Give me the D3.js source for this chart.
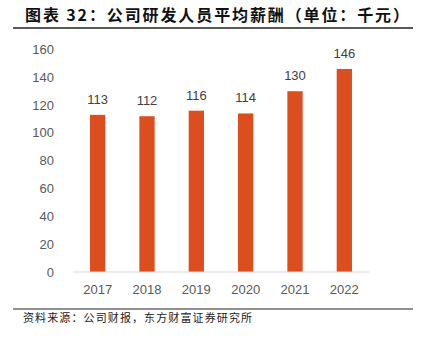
<!DOCTYPE html>
<html><head><meta charset="utf-8">
<script src="https://cdn.jsdelivr.net/npm/d3@7"></script>
<style>body{margin:0;background:#fff}svg{display:block}</style>
</head><body>
<svg id="c" width="422" height="338"></svg>
<script>
const categories = ["2017","2018","2019","2020","2021","2022"];
const values = [113,112,116,114,130,146];
const yTicks = [0,20,40,60,80,100,120,140,160];
const titleText = "图表 32：公司研发人员平均薪酬（单位：千元）";
const sourceText = "资料来源：公司财报，东方财富证券研究所";

const svg = d3.select("#c");
const font = "'Noto Sans CJK SC','Noto Sans',sans-serif";

svg.append("text").attr("x",25).attr("y",21).attr("font-family",font)
  .attr("font-size",16).attr("font-weight","bold").attr("fill","#111")
  .attr("textLength",384).attr("lengthAdjust","spacing").text(titleText);
svg.append("line").attr("x1",13).attr("x2",413).attr("y1",28).attr("y2",28)
  .attr("stroke","#222").attr("stroke-width",1.3);

const x = d3.scaleBand().domain(categories).range([73,369]).paddingInner(0.69).paddingOuter(0.345);
const y = d3.scaleLinear().domain([0,160]).range([272,49.5]);

const numFont = "'Liberation Sans',Arial,sans-serif";
svg.append("g").selectAll("text").data(yTicks).join("text")
  .attr("x",54).attr("y",d=>y(d)).attr("dy","0.35em").attr("text-anchor","end")
  .attr("font-family",numFont).attr("font-size",13).attr("fill","#595959").text(d=>d);

svg.append("g").selectAll("rect").data(values).join("rect")
  .attr("x",(d,i)=>x(categories[i])).attr("width",x.bandwidth())
  .attr("y",d=>y(d)).attr("height",d=>y(0)-y(d)).attr("fill","#DD4E1E");

svg.append("line").attr("x1",73).attr("x2",369).attr("y1",y(0)).attr("y2",y(0))
  .attr("stroke","#D9D9D9").attr("stroke-width",1);

svg.append("g").selectAll("text").data(values).join("text")
  .attr("x",(d,i)=>x(categories[i])+x.bandwidth()/2).attr("y",d=>y(d)-11)
  .attr("text-anchor","middle").attr("font-family",numFont).attr("font-size",13)
  .attr("fill","#404040").text(d=>d);

svg.append("g").selectAll("text").data(categories).join("text")
  .attr("x",d=>x(d)+x.bandwidth()/2).attr("y",294)
  .attr("text-anchor","middle").attr("font-family",numFont).attr("font-size",13)
  .attr("fill","#595959").text(d=>d);

svg.append("line").attr("x1",13).attr("x2",413).attr("y1",309).attr("y2",309)
  .attr("stroke","#222").attr("stroke-width",1);
svg.append("text").attr("x",23).attr("y",322).attr("font-family",font)
  .attr("font-size",11).attr("fill","#222")
  .attr("textLength",229).attr("lengthAdjust","spacing").text(sourceText);
</script>
</body></html>
